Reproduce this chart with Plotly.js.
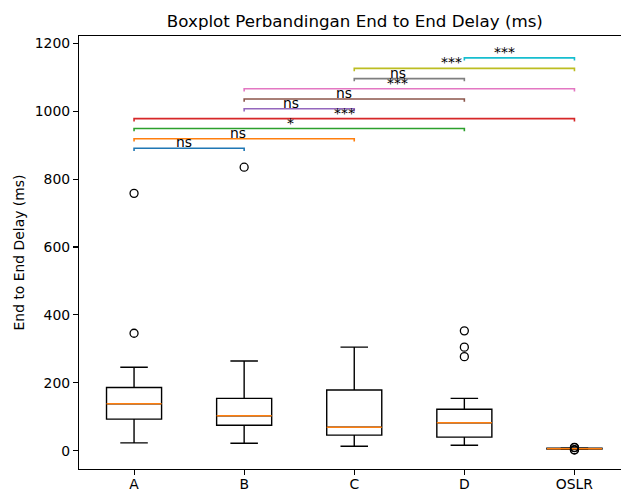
<!DOCTYPE html>
<html>
<head>
<meta charset="utf-8">
<script src="https://cdn.plot.ly/plotly-3.0.1.min.js"></script>
<style>html,body{margin:0;padding:0;background:#fff;}#chart{width:621px;height:491px;}</style>
</head>
<body>
<div id="chart"></div>
<script>
// ---- data ----
const categories = ['A', 'B', 'C', 'D', 'OSLR'];
const q1Values = [93, 75, 46, 40, 5];
const medianValues = [138, 103, 69, 82, 6];
const q3Values = [186, 154, 179, 122, 7];
const lowerWhisker = [23, 22, 13, 16, 4];
const upperWhisker = [246, 264, 305, 154, 8];

const outlierGroup = ['A', 'A', 'B', 'D', 'D', 'D', 'OSLR', 'OSLR', 'OSLR', 'OSLR'];
const outlierValue = [346, 758, 835, 353, 305, 277, 2, 3, 9, 10];

const pairFrom = ['A', 'A', 'A', 'A', 'B', 'B', 'B', 'C', 'C', 'D'];
const pairTo = ['B', 'C', 'D', 'OSLR', 'C', 'D', 'OSLR', 'D', 'OSLR', 'OSLR'];
const bracketHeight = [891, 919, 949, 978, 1007, 1036, 1066, 1096, 1126, 1157];
const sigLabel = ['ns', 'ns', '*', '***', 'ns', 'ns', '***', 'ns', '***', '***'];

// ---- rendering ----
const FONT = 'DejaVu Sans, Liberation Sans, sans-serif';
const pos = c => categories.indexOf(c) + 1;
const xs = categories.map((c, i) => i + 1);
const BOXW = 0.5;
const tab10 = ['#1f77b4', '#ff7f0e', '#2ca02c', '#d62728', '#9467bd',
               '#8c564b', '#e377c2', '#7f7f7f', '#bcbd22', '#17becf'];

const traces = [];

traces.push({
  type: 'box',
  x: xs,
  q1: q1Values,
  median: medianValues,
  q3: q3Values,
  lowerfence: lowerWhisker,
  upperfence: upperWhisker,
  width: BOXW,
  whiskerwidth: 0.5,
  boxpoints: false,
  line: {color: '#000000', width: 1.4},
  fillcolor: 'rgba(0,0,0,0)',
  showlegend: false,
  hoverinfo: 'skip'
});

// median lines (orange)
const mx = [], my = [];
xs.forEach((x, i) => {
  mx.push(x - BOXW / 2, x + BOXW / 2, null);
  my.push(medianValues[i], medianValues[i], null);
});
traces.push({
  type: 'scatter', mode: 'lines', x: mx, y: my,
  line: {color: '#ff7f0e', width: 1.5}, showlegend: false, hoverinfo: 'skip'
});

// outliers
traces.push({
  type: 'scatter', mode: 'markers',
  x: outlierGroup.map(pos), y: outlierValue,
  marker: {symbol: 'circle-open', size: 8, color: '#000000', line: {width: 1.3, color: '#000000'}},
  showlegend: false, hoverinfo: 'skip'
});

// significance brackets
const TICKDROP = 8;
const annotations = [];
pairFrom.forEach((a, i) => {
  const x1 = pos(a), x2 = pos(pairTo[i]), h = bracketHeight[i];
  traces.push({
    type: 'scatter', mode: 'lines',
    x: [x1, x1, x2, x2], y: [h - TICKDROP, h, h, h - TICKDROP],
    line: {color: tab10[i % 10], width: 1.6}, showlegend: false, hoverinfo: 'skip'
  });
  annotations.push({
    x: (x1 + x2) / 2 * 0.97, y: h, xref: 'x', yref: 'y',
    text: sigLabel[i], showarrow: false, xanchor: 'center', yanchor: 'bottom',
    yshift: -4,
    font: {family: FONT, size: 13.9, color: '#000000'}
  });
});

const layout = {
  width: 621, height: 491,
  paper_bgcolor: '#ffffff', plot_bgcolor: '#ffffff',
  margin: {l: 79, r: 0, t: 36, b: 22, autoexpand: false},
  font: {family: FONT, size: 13.9, color: '#000000'},
  title: {
    text: 'Boxplot Perbandingan End to End Delay (ms)',
    font: {family: FONT, size: 16.7, color: '#000000'},
    xref: 'paper', x: 0.509, xanchor: 'center',
    yref: 'container', y: 1 - 21 / 491, yanchor: 'middle'
  },
  xaxis: {
    range: [0.5, 0.5 + 542 / 110.1],
    tickmode: 'array', tickvals: xs, ticktext: categories,
    showline: true, mirror: true, linecolor: '#000000', linewidth: 1.1,
    ticks: 'outside', ticklen: 5, tickwidth: 1.1, tickcolor: '#000000',
    ticklabelstandoff: -3,
    showgrid: false, zeroline: false,
    tickfont: {family: FONT, size: 13.9, color: '#000000'}
  },
  yaxis: {
    range: [-53.9, 1221.5],
    tickmode: 'array', tickvals: [0, 200, 400, 600, 800, 1000, 1200],
    showline: true, mirror: false, linecolor: '#000000', linewidth: 1.1,
    ticks: 'outside', ticklen: 5, tickwidth: 1.1, tickcolor: '#000000',
    showgrid: false, zeroline: false,
    tickfont: {family: FONT, size: 13.9, color: '#000000'},
    title: {text: 'End to End Delay (ms)', standoff: 6,
            font: {family: FONT, size: 13.9, color: '#000000'}}
  },
  annotations: annotations,
  showlegend: false
};

Plotly.newPlot('chart', traces, layout, {displayModeBar: false, staticPlot: true});
</script>
</body>
</html>
